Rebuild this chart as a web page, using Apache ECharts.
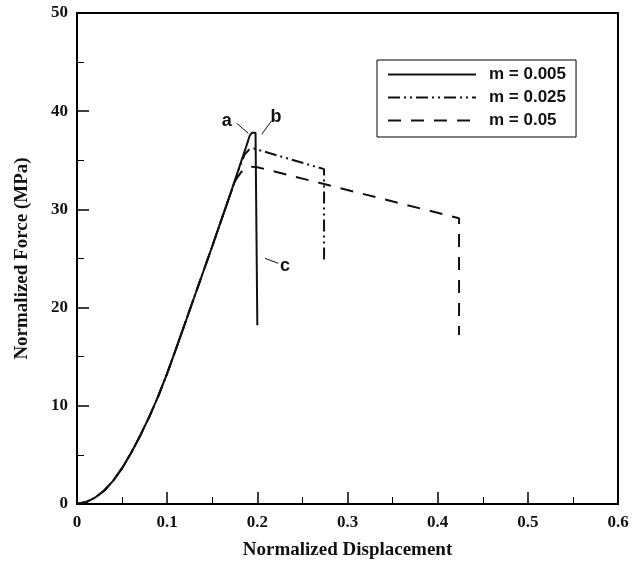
<!DOCTYPE html>
<html>
<head>
<meta charset="utf-8">
<script src="https://cdn.jsdelivr.net/npm/echarts@6/dist/echarts.min.js"></script>
<style>
  html, body { margin: 0; padding: 0; background: #fff; }
  #chart { width: 643px; height: 567px; }
</style>
</head>
<body>
<div id="chart"></div>
<script>
// shared loading branch (all three curves overlap here)
var riseX = [0, 0.01, 0.02, 0.03, 0.04, 0.05, 0.06, 0.07, 0.08, 0.09, 0.10, 0.11, 0.12, 0.13, 0.14, 0.15, 0.16, 0.17];
var riseY = [0, 0.2, 0.65, 1.35, 2.35, 3.65, 5.2, 6.95, 8.85, 10.95, 13.3, 15.85, 18.45, 21.05, 23.65, 26.25, 28.9, 31.55];

// tails after the shared branch
var tail005X = [0.18, 0.188, 0.1915, 0.194, 0.198, 0.2, 0.2];
var tail005Y = [34.3, 36.5, 37.5, 37.8, 37.8, 37.6, 18.2];

var tail025X = [0.176, 0.181, 0.186, 0.191, 0.196, 0.274, 0.274];
var tail025Y = [33.1, 34.5, 35.6, 36.1, 36.2, 34.1, 24.8];

var tail05X = [0.176, 0.182, 0.188, 0.194, 0.2, 0.4237, 0.4237];
var tail05Y = [33.0, 33.8, 34.2, 34.35, 34.3, 29.1, 17.2];

var seriesNames = ['m = 0.005', 'm = 0.025', 'm = 0.05'];

// annotation letters and leader lines (data units)
var noteText = ['a', 'b', 'c'];
var notePos = [[0.166, 39.0], [0.2207, 39.4], [0.2307, 24.2]];
var noteLines = [
  [[0.1771, 38.77], [0.190, 37.75]],
  [[0.2159, 39.03], [0.2048, 37.65]],
  [[0.2085, 25.02], [0.2232, 24.51]]
];

function pairs(xs, ys) {
  var out = [];
  for (var i = 0; i < xs.length; i++) out.push([xs[i], ys[i]]);
  return out;
}

var serif = 'Liberation Serif';
var sans = 'Liberation Sans';

var myChart = echarts.init(document.getElementById('chart'));
var option = {
  animation: false,
  backgroundColor: '#fff',
  grid: {
    left: 77, right: 25, top: 13, bottom: 63,
    show: true, borderColor: '#000', borderWidth: 2, backgroundColor: 'transparent'
  },
  legend: {
    data: seriesNames,
    orient: 'vertical',
    left: 377, top: 60,
    itemWidth: 88, itemHeight: 14, itemGap: 6,
    padding: [6, 10, 8, 10],
    borderColor: '#000', borderWidth: 1,
    itemStyle: { opacity: 0 },
    textStyle: { fontFamily: sans, fontWeight: 'bold', fontSize: 17, color: '#111', padding: [0, 0, 0, 8] }
  },
  xAxis: {
    type: 'value', min: 0, max: 0.6, interval: 0.1,
    name: 'Normalized Displacement', nameLocation: 'middle', nameGap: 37,
    nameTextStyle: { fontFamily: serif, fontWeight: 'bold', fontSize: 19, color: '#111' },
    axisLine: { lineStyle: { color: '#000', width: 2 } },
    axisTick: { inside: true, length: 12, lineStyle: { color: '#000', width: 1.5 } },
    minorTick: { show: true, splitNumber: 2, length: 7, lineStyle: { color: '#000', width: 1 } },
    splitLine: { show: false },
    axisLabel: { margin: 10, fontFamily: serif, fontWeight: 'bold', fontSize: 17, color: '#111' }
  },
  yAxis: {
    type: 'value', min: 0, max: 50, interval: 10,
    name: 'Normalized Force (MPa)', nameLocation: 'middle', nameGap: 45,
    nameTextStyle: { fontFamily: serif, fontWeight: 'bold', fontSize: 19, color: '#111' },
    axisLine: { lineStyle: { color: '#000', width: 2 } },
    axisTick: { inside: true, length: 12, lineStyle: { color: '#000', width: 1.5 } },
    minorTick: { show: true, splitNumber: 2, length: 7, lineStyle: { color: '#000', width: 1 } },
    splitLine: { show: false },
    axisLabel: { margin: 9, fontFamily: serif, fontWeight: 'bold', fontSize: 17, color: '#111' }
  },
  series: [
    {
      name: seriesNames[1], type: 'line', symbol: 'none', z: 2,
      itemStyle: { color: '#111' },
      data: pairs(riseX.concat(tail025X), riseY.concat(tail025Y)),
      lineStyle: { color: '#111', width: 2, type: [12, 4, 2, 4, 2, 4] }
    },
    {
      name: seriesNames[2], type: 'line', symbol: 'none', z: 2,
      itemStyle: { color: '#111' },
      data: pairs(riseX.concat(tail05X), riseY.concat(tail05Y)),
      lineStyle: { color: '#111', width: 2, type: [13, 10] }
    },
    {
      name: seriesNames[0], type: 'line', symbol: 'none', z: 3,
      itemStyle: { color: '#111' },
      data: pairs(riseX.concat(tail005X), riseY.concat(tail005Y)),
      lineStyle: { color: '#111', width: 2, type: 'solid' },
      markLine: {
        silent: true, symbol: ['none', 'none'],
        label: { show: false },
        lineStyle: { color: '#111', width: 1, type: 'solid' },
        data: noteLines.map(function (seg) {
          return [{ coord: seg[0] }, { coord: seg[1] }];
        })
      },
      markPoint: {
        silent: true, symbol: 'circle', symbolSize: 0,
        label: {
          show: true, position: 'inside',
          fontFamily: sans, fontWeight: 'bold', fontSize: 18, color: '#111',
          formatter: function (p) { return p.name; }
        },
        data: noteText.map(function (t, i) {
          return { name: t, coord: notePos[i] };
        })
      }
    }
  ]
};
myChart.setOption(option);
</script>
</body>
</html>
